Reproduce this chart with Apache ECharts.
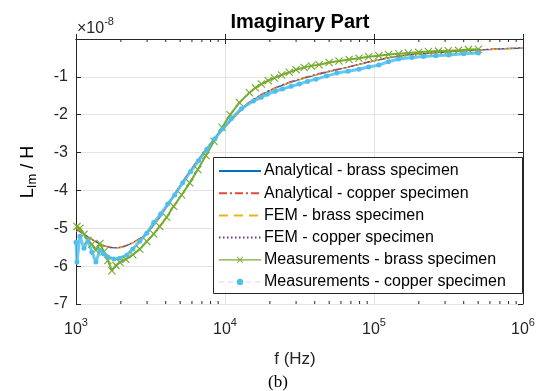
<!DOCTYPE html>
<html>
<head>
<meta charset="utf-8">
<script src="https://cdn.jsdelivr.net/npm/echarts@6/dist/echarts.min.js"></script>
<style>
html, body { margin: 0; padding: 0; background: #fff; }
#chart { width: 539px; height: 391px; }
</style>
</head>
<body>
<div id="chart"></div>
<script>
// Imaginary part of inductance vs frequency, values in units of 1e-8 H
const FONT = '"Liberation Sans", Arial, sans-serif';
const AX = '#262626';

const modelFreq = [1000, 1240, 1560, 1880, 2300, 2890, 3650, 4590, 5790, 7290, 9190, 11600, 14600, 19900, 27000, 42800, 68000, 100000, 147000, 233000, 370000, 588000, 1000000];
const analyticalBrass = [-5.00, -5.26, -5.47, -5.52, -5.42, -5.18, -4.71, -4.10, -3.50, -2.97, -2.48, -2.06, -1.68, -1.37, -1.16, -0.93, -0.74, -0.58, -0.45, -0.38, -0.32, -0.28, -0.24];
const analyticalCopper = [-5.02, -5.27, -5.46, -5.51, -5.41, -5.17, -4.70, -4.09, -3.49, -2.96, -2.46, -2.04, -1.66, -1.35, -1.14, -0.91, -0.73, -0.57, -0.45, -0.37, -0.32, -0.27, -0.23];
const femBrass = [-4.98, -5.25, -5.46, -5.52, -5.43, -5.19, -4.72, -4.11, -3.51, -2.98, -2.48, -2.06, -1.68, -1.37, -1.16, -0.93, -0.74, -0.58, -0.46, -0.38, -0.32, -0.28, -0.24];
const femCopper = [-5.01, -5.26, -5.47, -5.51, -5.41, -5.18, -4.70, -4.10, -3.50, -2.97, -2.47, -2.05, -1.67, -1.36, -1.15, -0.92, -0.73, -0.57, -0.45, -0.37, -0.32, -0.27, -0.23];

const measBrassFreq = [1015, 1063, 1131, 1203, 1279, 1360, 1447, 1539, 1637, 1741, 1852, 1970, 2160, 2405, 2679, 2984, 3324, 3646, 4058, 4519, 5114, 5796, 6568, 7442, 8434, 9557, 10830, 12500, 14590, 16000, 17530, 19500, 21440, 24000, 27000, 30000, 34000, 38000, 42800, 50000, 58200, 68000, 79200, 92000, 107700, 125000, 146500, 170000, 199300, 232000, 271000, 315000, 369000, 430000, 502000];
const measBrass = [-4.95, -5.00, -5.16, -5.32, -5.42, -5.58, -5.40, -5.62, -5.85, -6.12, -5.98, -5.90, -5.82, -5.70, -5.55, -5.35, -5.15, -4.95, -4.71, -4.42, -4.12, -3.80, -3.45, -3.08, -2.70, -2.33, -2.00, -1.68, -1.42, -1.29, -1.19, -1.10, -1.03, -0.95, -0.88, -0.81, -0.75, -0.71, -0.68, -0.62, -0.58, -0.54, -0.51, -0.47, -0.44, -0.41, -0.39, -0.37, -0.35, -0.33, -0.32, -0.31, -0.30, -0.28, -0.27];

const measCopperFreq = [1000, 1015, 1063, 1131, 1203, 1279, 1360, 1447, 1539, 1637, 1795, 1970, 2193, 2405, 2679, 2984, 3324, 3703, 4125, 4595, 5199, 5883, 6656, 7532, 8523, 9643, 11030, 12880, 15500, 17500, 19200, 21700, 24300, 27800, 31500, 35800, 40800, 48000, 56400, 67000, 79200, 92000, 107700, 125000, 146500, 180000, 215000, 260000, 317000, 400000, 502000];
const measCopper = [-5.37, -5.89, -5.21, -5.53, -5.32, -5.63, -5.89, -5.58, -5.68, -5.76, -5.81, -5.79, -5.71, -5.55, -5.34, -5.13, -4.85, -4.62, -4.36, -4.12, -3.80, -3.50, -3.21, -2.92, -2.64, -2.37, -2.10, -1.84, -1.64, -1.54, -1.46, -1.38, -1.32, -1.25, -1.19, -1.12, -1.06, -0.98, -0.90, -0.85, -0.80, -0.74, -0.69, -0.60, -0.53, -0.49, -0.46, -0.44, -0.42, -0.39, -0.37];

const minorTicks = [2e3, 3e3, 4e3, 5e3, 6e3, 7e3, 8e3, 9e3, 2e4, 3e4, 4e4, 5e4, 6e4, 7e4, 8e4, 9e4, 2e5, 3e5, 4e5, 5e5, 6e5, 7e5, 8e5, 9e5];

const names = [
  'Analytical - brass specimen',
  'Analytical - copper specimen',
  'FEM - brass specimen',
  'FEM - copper specimen',
  'Measurements - brass specimen',
  'Measurements - copper specimen'
];

function zip(xs, ys) { return xs.map(function (x, i) { return [x, ys[i]]; }); }

const X_SYMBOL = 'path://M0,1L1,0L5,4L9,0L10,1L6,5L10,9L9,10L5,6L1,10L0,9L4,5Z';

function modelLine(name, vals, color, type, width) {
  return {
    name: name, type: 'line', data: zip(modelFreq, vals), symbol: 'none', smooth: 0.3,
    lineStyle: { color: color, width: width, type: type }, itemStyle: { color: color }
  };
}

const supRich = {
  b: { fontSize: 16, lineHeight: 25, fontFamily: FONT, color: AX },
  s: { fontSize: 11, lineHeight: 11, verticalAlign: 'top', fontFamily: FONT, color: AX }
};

const legendData = [
  { name: names[0], itemStyle: { opacity: 0 } },
  { name: names[1], itemStyle: { opacity: 0 } },
  { name: names[2], itemStyle: { opacity: 0 } },
  { name: names[3], itemStyle: { opacity: 0 } },
  { name: names[4], lineStyle: { width: 1.2 } },
  { name: names[5], lineStyle: { type: [5, 4], width: 1, color: '#d9c8ef' } }
];

const chart = echarts.init(document.getElementById('chart'), null, { renderer: 'canvas' });
chart.setOption({
  animation: false,
  backgroundColor: '#fff',
  textStyle: { fontFamily: FONT },
  grid: { left: 76, right: 16, top: 39, bottom: 87, show: false },
  legend: {
    orient: 'vertical', left: 218, top: 163, padding: 0,
    itemWidth: 42, itemHeight: 8, itemGap: 6.2,
    textStyle: { fontSize: 16, lineHeight: 16, color: '#000', fontFamily: FONT, padding: [0, 0, 0, -2] },
    data: legendData
  },
  xAxis: [{
    type: 'log', logBase: 10, min: 1000, max: 1000000, position: 'bottom',
    axisLine: { lineStyle: { color: AX, width: 1 } },
    axisTick: { inside: true, length: 5, lineStyle: { color: AX } },
    axisLabel: {
      margin: 13, color: AX, rich: supRich,
      formatter: function (v) { return '{b|10}{s|' + Math.round(Math.log10(v)) + '}'; }
    },
    splitLine: { show: true, lineStyle: { color: '#e3e3e3', width: 1 } }
  }, {
    type: 'log', logBase: 10, min: 1000, max: 1000000, position: 'top',
    axisLine: { lineStyle: { color: AX, width: 1 } },
    axisTick: { inside: true, length: 5, lineStyle: { color: AX } },
    axisLabel: { show: false }, splitLine: { show: false }
  }],
  yAxis: [{
    type: 'value', min: -7, max: 0, interval: 1, position: 'left',
    axisLine: { show: true, lineStyle: { color: AX, width: 1 } },
    axisTick: { show: true, inside: true, length: 5, lineStyle: { color: AX } },
    axisLabel: {
      margin: 8, fontSize: 16, color: AX, fontFamily: FONT,
      formatter: function (v) { return v === 0 ? '' : String(v); }
    },
    splitLine: { show: true, lineStyle: { color: '#e3e3e3', width: 1 } }
  }, {
    type: 'value', min: -7, max: 0, interval: 1, position: 'right',
    axisLine: { show: true, lineStyle: { color: AX, width: 1 } },
    axisTick: { show: true, inside: true, length: 5, lineStyle: { color: AX } },
    axisLabel: { show: false }, splitLine: { show: false }
  }],
  graphic: [
    { type: 'rect', left: 213, top: 157, z: 3, shape: { width: 309, height: 136 },
      style: { fill: '#fff', stroke: AX, lineWidth: 1 } },
    { type: 'text', x: 300, y: 22, z: 5,
      style: { text: 'Imaginary Part', font: 'bold 20px ' + FONT, fill: '#000', textAlign: 'center', textVerticalAlign: 'middle' } },
    { type: 'text', x: 77, y: 16, z: 5,
      style: { text: '{b|×10}{s|-8}', rich: supRich, fill: AX } },
    { type: 'text', x: 295, y: 359, z: 5,
      style: { text: 'f (Hz)', font: '17px ' + FONT, fill: AX, textAlign: 'center', textVerticalAlign: 'middle' } },
    { type: 'text', x: 278, y: 383, z: 5,
      style: { text: '(b)', font: '17px "Liberation Serif", "Times New Roman", serif', fill: '#000', textAlign: 'center', textVerticalAlign: 'middle' } },
    { type: 'text', x: 28, y: 172, rotation: Math.PI / 2, z: 5,
      style: {
        text: '{a|L}{c|Im}{a| / H}', textAlign: 'center', textVerticalAlign: 'middle',
        rich: {
          a: { fontSize: 18, lineHeight: 22, fontFamily: FONT, color: AX },
          c: { fontSize: 13, lineHeight: 13, verticalAlign: 'bottom', fontFamily: FONT, color: AX }
        }
      } }
  ],
  series: [
    modelLine(names[0], analyticalBrass, '#0072BD', 'solid', 1.2),
    modelLine(names[1], analyticalCopper, '#DE4A3C', [8, 3, 2, 3], 1.2),
    modelLine(names[2], femBrass, '#EDB120', [9, 6], 1.2),
    modelLine(names[3], femCopper, '#7E2F8E', [1.5, 2.5], 0.9),
    {
      name: names[4], type: 'line', data: zip(measBrassFreq, measBrass),
      symbol: X_SYMBOL, symbolSize: 8, showAllSymbol: true,
      lineStyle: { color: '#77AC30', width: 2 }, itemStyle: { color: '#77AC30' }
    },
    {
      name: names[5], type: 'line', data: zip(measCopperFreq, measCopper),
      symbol: 'circle', symbolSize: 5, showAllSymbol: true,
      lineStyle: { color: '#4DBEEE', width: 3, opacity: 0.85 }, itemStyle: { color: '#4DBEEE' }
    },
    {
      type: 'custom', silent: true, z: 3, clip: false,
      data: minorTicks.map(function (f) { return [f, -7]; }),
      encode: { x: 0, y: 1 },
      renderItem: function (params, api) {
        const b = api.coord([api.value(0), -7]);
        const t = api.coord([api.value(0), 0]);
        return { type: 'group', children: [
          { type: 'line', shape: { x1: b[0], y1: b[1], x2: b[0], y2: b[1] - 3 }, style: { stroke: AX, lineWidth: 1 } },
          { type: 'line', shape: { x1: t[0], y1: t[1], x2: t[0], y2: t[1] + 3 }, style: { stroke: AX, lineWidth: 1 } }
        ] };
      }
    }
  ]
});
</script>
</body>
</html>
